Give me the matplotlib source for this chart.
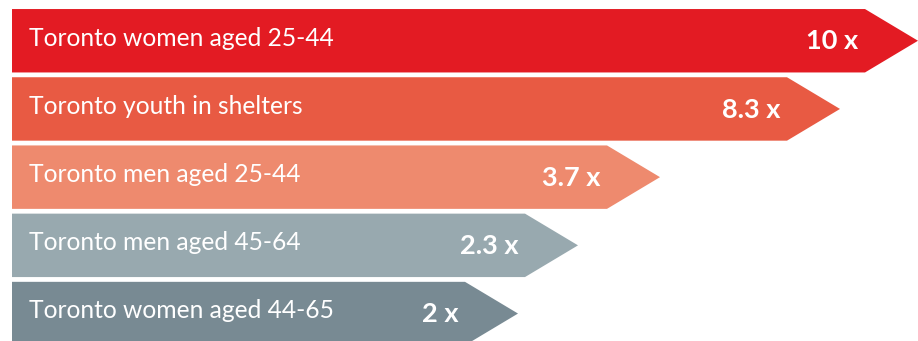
import matplotlib
matplotlib.use("Agg")
import matplotlib.pyplot as plt
from matplotlib.patches import Polygon

# ---- data ----
categories = [
    "Toronto women aged 25-44",
    "Toronto youth in shelters",
    "Toronto men aged 25-44",
    "Toronto men aged 45-64",
    "Toronto women aged 44-65",
]
value_labels = ["10 x", "8.3 x", "3.7 x", "2.3 x", "2 x"]
# length of the rectangular body of each arrow (chart units, as drawn)
bar_extent = [853, 775, 595, 513, 453]
colors = ["#E31B23", "#E85A43", "#EE8A6E", "#98A9AF", "#788A93"]

# ---- styling ----
TIP = 53          # length of the arrow point
HEIGHT = 0.93     # bar thickness (category units)

plt.rcParams["font.family"] = ["Lato", "DejaVu Sans"]

fig = plt.figure(figsize=(9.18, 3.41), dpi=100)
ax = fig.add_axes([0, 0, 1, 1])
ax.set_xlim(-12, 906)
ax.set_ylim(4.4025, -0.5975)
ax.axis("off")

for i, (cat, val, ext, col) in enumerate(zip(categories, value_labels, bar_extent, colors)):
    top, bot = i - HEIGHT / 2, i + HEIGHT / 2
    pts = [(0, top), (ext, top), (ext + TIP, i), (ext, bot), (0, bot)]
    ax.add_patch(Polygon(pts, closed=True, facecolor=col, edgecolor="none"))
    ax.text(17, i - 0.04, cat, color="white", fontsize=17.7, ha="left", va="center")
    ax.text(ext - 7, i + 0.01, val, color="white", fontsize=19.5, fontweight="bold",
            ha="right", va="center")

fig.savefig("out.png", dpi=100)
